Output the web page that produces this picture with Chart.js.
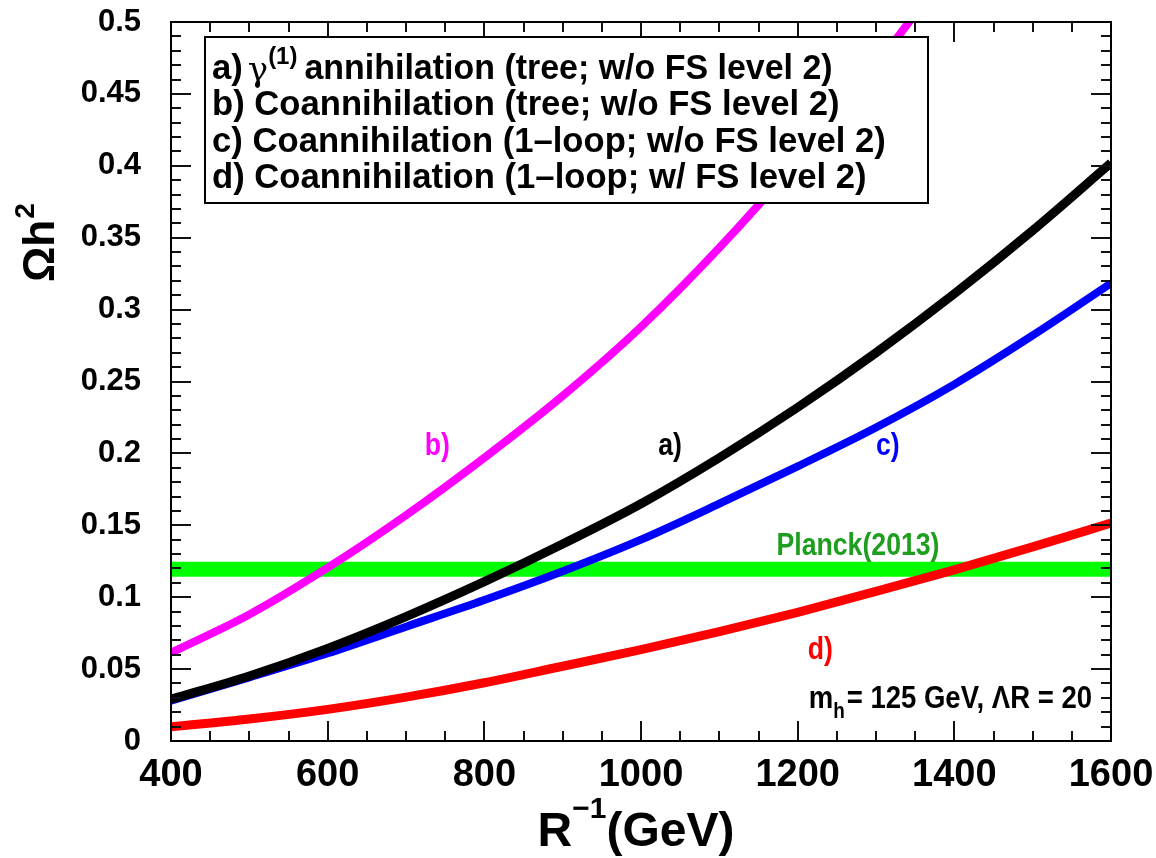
<!DOCTYPE html>
<html>
<head>
<meta charset="utf-8" />
<title>Relic abundance vs R^-1</title>
<script src="https://cdn.jsdelivr.net/npm/chart.js"></script>
<style>
  body, html { margin: 0; padding: 0; background: #ffffff; }
  canvas { display: block; }
</style>
</head>
<body>
<canvas id="relic" width="1156" height="858"></canvas>
<script>
// R^-1 in GeV
const rInv = [400, 500, 600, 700, 800, 900, 1000, 1100, 1200, 1300, 1400, 1500, 1600];
// a) gamma(1) annihilation, tree level
const omegaA = [0.029, 0.0452, 0.0644, 0.0865, 0.1108, 0.137, 0.165, 0.197, 0.232, 0.270, 0.311, 0.355, 0.402];
// b) coannihilation, tree level (runs off the top)
const omegaB = [0.0614, 0.088, 0.1205, 0.157, 0.197, 0.240, 0.288, 0.343, 0.404, 0.470, 0.542, null, null];
// c) coannihilation, 1-loop, no FS level 2
const omegaC = [0.028, 0.0443, 0.061, 0.0795, 0.098, 0.118, 0.140, 0.165, 0.191, 0.218, 0.248, 0.282, 0.3183];
// d) coannihilation, 1-loop, with FS level 2
const omegaD = [0.0099, 0.0153, 0.022, 0.0305, 0.0405, 0.052, 0.0635, 0.076, 0.0895, 0.104, 0.119, 0.135, 0.1515];
// Planck 2013 band
const planckX = [400, 1600];
const planckY = [0.1195, 0.1195];

const xTicks = { min: 400, max: 1600, major: 200, minor: 50 };
const yTicks = { min: 0, max: 0.5, major: 0.05, minor: 0.01 };

const legendLines = [
  "b) Coannihilation (tree; w/o FS level 2)",
  "c) Coannihilation (1\u2013loop; w/o FS level 2)",
  "d) Coannihilation (1\u2013loop; w/ FS level 2)"
];

const FAM = '"Liberation Sans", Arial, Helvetica, sans-serif';

function pts(ys) {
  const out = [];
  rInv.forEach((x, i) => { if (ys[i] !== null) out.push({ x: x, y: ys[i] }); });
  return out;
}

function textWidth(ctx, text, font, sx) {
  ctx.save();
  ctx.font = font;
  const w = ctx.measureText(text).width * sx;
  ctx.restore();
  return w;
}

// draws text squeezed horizontally by sx, returns drawn width
function squeezed(ctx, text, x, y, font, color, align, sx) {
  const w = textWidth(ctx, text, font, sx);
  let x0 = x;
  if (align === "center") x0 = x - w / 2;
  if (align === "right") x0 = x - w;
  ctx.save();
  ctx.font = font;
  ctx.fillStyle = color;
  ctx.textBaseline = "alphabetic";
  ctx.translate(x0, y);
  ctx.scale(sx, 1);
  ctx.fillText(text, 0, 0);
  ctx.restore();
  return w;
}

const framePlugin = {
  id: "frame",
  afterDatasetsDraw(chart) {
    const ctx = chart.ctx;
    const a = chart.chartArea;
    const xs = chart.scales.x, ys = chart.scales.y;
    ctx.save();
    ctx.strokeStyle = "#111";
    ctx.lineWidth = 2;
    ctx.beginPath();
    for (let v = xTicks.min; v <= xTicks.max + 1e-6; v += xTicks.minor) {
      const px = Math.round(xs.getPixelForValue(v));
      const len = (v - xTicks.min) % xTicks.major === 0 ? 20 : 10;
      ctx.moveTo(px, a.bottom); ctx.lineTo(px, a.bottom - len);
      ctx.moveTo(px, a.top); ctx.lineTo(px, a.top + len);
    }
    for (let k = 0; k <= Math.round((yTicks.max - yTicks.min) / yTicks.minor); k++) {
      const v = yTicks.min + k * yTicks.minor;
      const py = Math.round(ys.getPixelForValue(v));
      const len = k % 5 === 0 ? 20 : 10;
      ctx.moveTo(a.left, py); ctx.lineTo(a.left + len, py);
      ctx.moveTo(a.right, py); ctx.lineTo(a.right - len, py);
    }
    ctx.stroke();
    ctx.strokeStyle = "#000";
    ctx.strokeRect(a.left, a.top, a.right - a.left, a.bottom - a.top);

    // legend box
    const bx = 205, by = 37, bw = 723, bh = 166;
    ctx.fillStyle = "#fff";
    ctx.fillRect(bx, by, bw, bh);
    ctx.lineWidth = 2;
    ctx.strokeRect(bx, by, bw, bh);
    const lf = "bold 35px " + FAM;
    let x = 212;
    x += squeezed(ctx, "a)", x, 79, lf, "#000", "left", 0.99) + 5;
    ctx.save();
    ctx.font = '34px "DejaVu Serif", serif';
    ctx.fillStyle = "#000";
    ctx.fillText("\u03b3", x, 81);
    x += ctx.measureText("\u03b3").width;
    ctx.restore();
    x += squeezed(ctx, "(1)", x, 64, "bold 24px " + FAM, "#000", "left", 1) + 7;
    squeezed(ctx, "annihilation (tree; w/o FS level 2)", x, 79, lf, "#000", "left", 0.97);
    legendLines.forEach((t, i) => squeezed(ctx, t, 212, 115 + i * 36.5, lf, "#000", "left", 0.99));

    // curve labels
    const lab = (t, gx, gy, col) =>
      squeezed(ctx, t, xs.getPixelForValue(gx), ys.getPixelForValue(gy), "bold 31px " + FAM, col, "center", 0.86);
    lab("b)", 740, 0.199, "#ff00ff");
    lab("a)", 1037, 0.199, "#000");
    lab("c)", 1315, 0.199, "#0000ff");
    lab("Planck(2013)", 1277, 0.129, "#1e9e1e");
    lab("d)", 1229, 0.057, "#ff0000");

    // parameter note, right aligned to just inside the frame
    const nf = "bold 32px " + FAM, sf = "bold 22px " + FAM;
    const rest = "= 125 GeV, \u039bR = 20";
    const total = textWidth(ctx, "m", nf, 0.86) + textWidth(ctx, "h", sf, 0.86) + 2 + textWidth(ctx, rest, nf, 0.86);
    let nx = a.right - 19 - total, ny = 708;
    nx += squeezed(ctx, "m", nx, ny, nf, "#000", "left", 0.86);
    nx += squeezed(ctx, "h", nx, ny + 10, sf, "#000", "left", 0.86);
    squeezed(ctx, rest, nx + 2, ny, nf, "#000", "left", 0.86);

    // axis titles
    const tf = "bold 48px " + FAM, tsf = "bold 30px " + FAM;
    const tw = textWidth(ctx, "R", tf, 1) + textWidth(ctx, "\u22121", tsf, 1) + textWidth(ctx, "(GeV)", tf, 1);
    let tx = (a.left + a.right) / 2 - tw / 2 - 5;
    tx += squeezed(ctx, "R", tx, 846, tf, "#000", "left", 1);
    tx += squeezed(ctx, "\u22121", tx, 818, tsf, "#000", "left", 1);
    squeezed(ctx, "(GeV)", tx, 846, tf, "#000", "left", 1);

    ctx.translate(54, 282);
    ctx.rotate(-Math.PI / 2);
    ctx.font = "bold 44px " + FAM;
    ctx.fillStyle = "#000";
    ctx.fillText("\u03a9h", 0, 0);
    const ow = ctx.measureText("\u03a9h").width;
    ctx.font = "bold 28px " + FAM;
    ctx.fillText("2", ow + 1, -20);
    ctx.restore();
  }
};

const line = (label, data, color, width, order) => ({
  label, data, borderColor: color, borderWidth: width, pointRadius: 0,
  cubicInterpolationMode: "monotone", fill: false, clip: 0, order
});

const noPad = s => { s.paddingTop = 0; s.paddingBottom = 0; s.paddingLeft = 0; s.paddingRight = 0; };

new Chart(document.getElementById("relic"), {
  type: "line",
  data: {
    datasets: [
      line("Planck(2013)", planckX.map((x, i) => ({ x, y: planckY[i] })), "#00ff00", 15, 6),
      line("b)", pts(omegaB), "#ff00ff", 8, 5),
      line("d)", pts(omegaD), "#ff0000", 9, 4),
      line("c)", pts(omegaC), "#0000ff", 8, 3),
      line("a)", pts(omegaA), "#000000", 9, 2)
    ]
  },
  options: {
    responsive: false,
    animation: false,
    events: [],
    layout: { padding: { top: 22, right: 45, left: 0, bottom: 0 } },
    plugins: { legend: { display: false }, tooltip: { enabled: false } },
    scales: {
      x: {
        type: "linear", min: xTicks.min, max: xTicks.max,
        grid: { display: false, drawTicks: false }, border: { display: false },
        ticks: {
          stepSize: xTicks.major, autoSkip: false, maxRotation: 0, padding: 12,
          color: "#000", font: { family: FAM, size: 38, weight: "bold" },
          callback: v => String(v)
        },
        afterFit: s => { s.height = 117; noPad(s); }
      },
      y: {
        min: yTicks.min, max: yTicks.max,
        grid: { display: false, drawTicks: false }, border: { display: false },
        ticks: {
          stepSize: yTicks.major, padding: 30, color: "#000",
          font: { family: FAM, size: 31, weight: "bold" },
          callback: v => String(+v.toFixed(2))
        },
        afterFit: s => { s.width = 171; noPad(s); }
      }
    }
  },
  plugins: [framePlugin]
});
</script>
</body>
</html>
